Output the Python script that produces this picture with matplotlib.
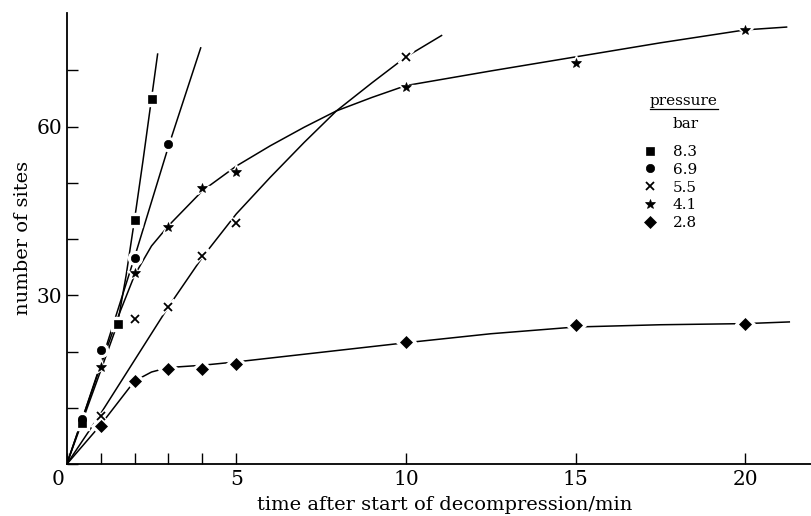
import numpy as np
from matplotlib import pyplot as plt
from matplotlib import transforms as mtransforms
from matplotlib.lines import Line2D

plt.rcParams['font.family'] = 'DejaVu Serif'

## measured points, time in min vs number of sites, per pressure (bar)
pressures = ['8.3', '6.9', '5.5', '4.1', '2.8']
markers = ['s', 'o', 'x', '*', 'D']
msizes = [5.5, 6, 5.5, 7.5, 6]

t_83 = [0.45, 1.5, 2.0, 2.5]
v_83 = [7.3, 24.9, 43.5, 65.0]
t_69 = [0.45, 1.0, 2.0, 3.0]
v_69 = [8.0, 20.4, 36.6, 56.9]
t_55 = [1.0, 2.0, 3.0, 4.0, 5.0, 10.0]
v_55 = [8.5, 25.9, 28.0, 37.0, 42.9, 72.4]
t_41 = [1.0, 2.0, 3.0, 4.0, 5.0, 10.0, 15.0, 20.0]
v_41 = [17.3, 34.0, 42.2, 49.1, 52.0, 67.1, 71.3, 77.1]
t_28 = [1.0, 2.0, 3.0, 4.0, 5.0, 10.0, 15.0, 20.0]
v_28 = [6.8, 14.8, 16.9, 17.0, 17.9, 21.8, 24.7, 24.9]

## hand drawn curves, vertices
ct_83 = [0, 0.5, 1.0, 1.5, 1.75, 2.0, 2.25, 2.5, 2.68]
cv_83 = [0, 8.3, 16.6, 25.0, 33.5, 43.5, 54.0, 65.0, 72.9]
ct_69 = [0, 0.5, 1.0, 2.0, 3.0, 3.95]
cv_69 = [0, 8.8, 17.8, 36.8, 56.5, 74.0]
ct_55 = [0, 1, 2, 3, 4, 5, 6, 7, 7.95, 9, 10, 11.05]
cv_55 = [0, 9.0, 18.5, 28.0, 36.8, 44.5, 51.0, 57.2, 62.8, 67.8, 72.4, 76.2]
ct_41 = [0, 1, 1.5, 2, 2.5, 3, 4, 5, 6, 7, 7.95, 9, 10, 12.5, 15, 17.5, 20, 21.22]
cv_41 = [0, 17.5, 26.0, 33.6, 38.8, 42.4, 48.6, 53.0, 56.6, 59.9, 62.8, 65.2, 67.3,
         69.9, 72.4, 74.9, 77.2, 77.7]
ct_28 = [0, 1, 2, 2.5, 3, 4, 5, 7.5, 10, 12.5, 15, 17.5, 20, 21.3]
cv_28 = [0, 7.0, 14.8, 16.4, 17.2, 17.6, 18.2, 19.9, 21.6, 23.2, 24.4, 24.8, 25.0, 25.3]

pts = [(t_83, v_83), (t_69, v_69), (t_55, v_55), (t_41, v_41), (t_28, v_28)]
curves = [(ct_83, cv_83), (ct_69, cv_69), (ct_55, cv_55), (ct_41, cv_41), (ct_28, cv_28)]

fig = plt.figure(figsize=(8.11, 5.16), dpi=100)
ax = fig.add_axes([66.7/811, (516-464.3)/516, (811-66.7)/811, (464.3-13)/516])

for ct, cv in curves:
    ax.plot(ct, cv, color='black', lw=1.1, zorder=2)

handles = []
for (t, v), m, ms, p in zip(pts, markers, msizes, pressures):
    # white halo so the curve looks broken round each point
    ax.plot(t, v, ls='none', marker=m, ms=ms+4, color='white', mec='white',
            mew=3 if m == 'x' else 1, zorder=3)
    h, = ax.plot(t, v, ls='none', marker=m, ms=ms, color='black', mec='black',
                 mew=1.3 if m == 'x' else 0.5, zorder=4, label=p)
    handles.append(h)

ax.set_xlim(0, 21.94)
ax.set_ylim(0, 80.2)
for s in ['top', 'right']:
    ax.spines[s].set_visible(False)
for s in ['left', 'bottom']:
    ax.spines[s].set_linewidth(1.3)

ax.set_xticks([0, 5, 10, 15, 20])
ax.set_xticks([1, 2, 3, 4], minor=True)
ax.set_yticks([0, 30, 60])
ax.set_yticklabels(['', '30', '60'])
ax.set_yticks([10, 20, 40, 50, 70], minor=True)
ax.tick_params(which='both', direction='in', length=8, width=1, labelsize=14.5)
ax.tick_params(axis='x', pad=4)
ax.tick_params(axis='y', pad=3)

# the corner "0" sits a little left of the origin
lab0 = ax.get_xticklabels()[0]
lab0.set_transform(lab0.get_transform() +
                   mtransforms.ScaledTranslation(-9/100, 0, fig.dpi_scale_trans))

fig.text(445/811, 1-505/516, 'time after start of decompression/min',
         ha='center', va='center', fontsize=14)
fig.text(23/811, 1-238/516, 'number of sites', rotation=90,
         ha='center', va='center', fontsize=14)

# legend heading: pressure over bar
fig.text(684/811, 1-101/516, 'pressure', ha='center', va='center', fontsize=11)
fig.add_artist(Line2D([650/811, 718/811], [1-109.5/516, 1-109.5/516],
                      color='black', lw=0.9))
fig.text(686/811, 1-124/516, 'bar', ha='center', va='center', fontsize=11)

ax.legend(handles=handles, loc='upper left', bbox_to_anchor=(642/811, 1-145/516),
          bbox_transform=fig.transFigure, frameon=False, fontsize=11,
          handlelength=1.1, handletextpad=0.9, labelspacing=0.25, borderpad=0,
          borderaxespad=0)

plt.savefig('out.png', dpi=100)
